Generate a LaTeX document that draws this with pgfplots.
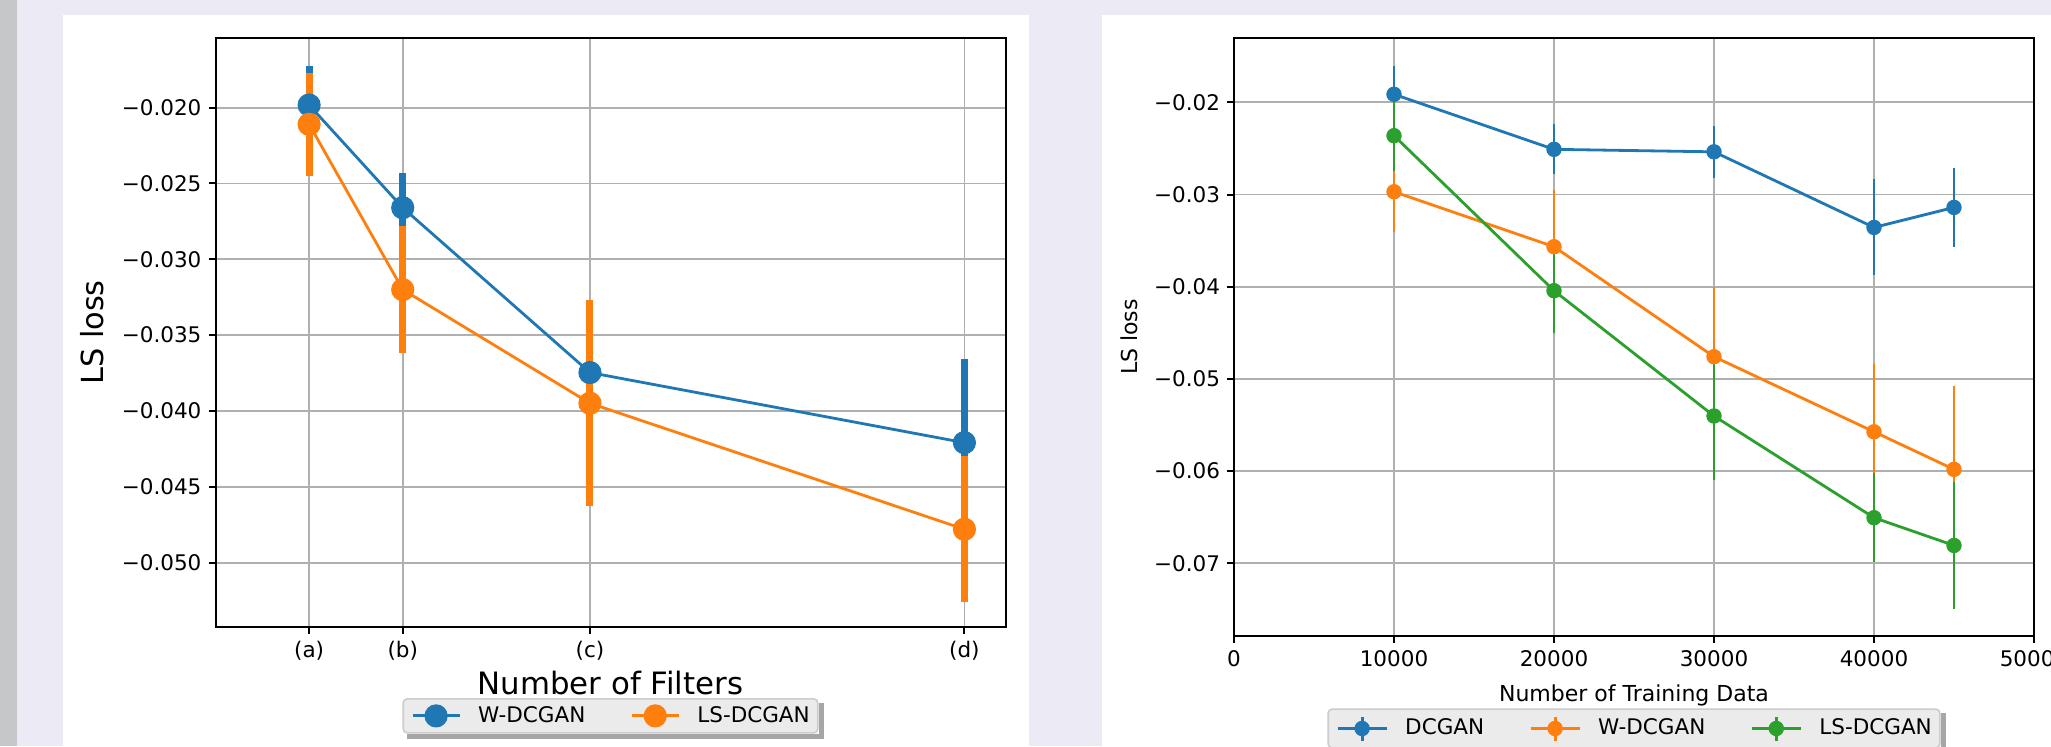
\documentclass[border=0pt]{standalone}
\usepackage{pgfplots}
\pgfplotsset{compat=1.18}
\usepackage{pgfplotstable}
\usepackage{fontspec}
\setmainfont{DejaVu Sans}

\definecolor{cblue}{HTML}{1F77B4}
\definecolor{corange}{HTML}{FF7F0E}
\definecolor{cgreen}{HTML}{2CA02C}
\definecolor{lav}{HTML}{ECEBF5}
\definecolor{strip}{HTML}{C6C7C9}
\definecolor{gridc}{HTML}{B0B0B0}
\definecolor{legfill}{HTML}{EBEBEB}
\definecolor{legedge}{HTML}{CCCCCC}
\definecolor{shadowc}{HTML}{A6A6A6}

% Left panel: Number of Filters, (a)=1,(b)=2,(c)=4,(d)=8
\pgfplotstableread{
x y e
1 -0.01983 0.0026
2 -0.02660 0.0023
4 -0.03747 0.0033
8 -0.04209 0.0055
}\lw
\pgfplotstableread{
x y e
1 -0.02110 0.0034
2 -0.03200 0.0042
4 -0.03949 0.0068
8 -0.04780 0.0048
}\lls

% Right panel: Number of Training Data
\pgfplotstableread{
x y e
10000 -0.01913 0.0031
20000 -0.02510 0.0027
30000 -0.02537 0.0028
40000 -0.03357 0.0052
45000 -0.03140 0.0043
}\rdc
\pgfplotstableread{
x y e
10000 -0.02970 0.0044
20000 -0.03566 0.0062
30000 -0.04759 0.0076
40000 -0.05573 0.0074
45000 -0.05981 0.0090
}\rw
\pgfplotstableread{
x y e
10000 -0.02362 0.0038
20000 -0.04043 0.0046
30000 -0.05402 0.0069
40000 -0.06505 0.0048
45000 -0.06806 0.0069
}\rls

\pgfplotsset{
  common/.style={
    scale only axis,
    axis line style={line width=1pt, black},
    tick align=outside,
    major tick length=3.5pt,
    tick style={black, line width=1pt},
    xtick pos=bottom, ytick pos=left,
    grid=major,
    major grid style={gridc, line width=0.9pt},
    tick label style={font=\fontsize{10.75}{13}\selectfont},
    scaled x ticks=false, scaled y ticks=false,
    legend columns=3,
    legend style={
      anchor=north,
      fill=legfill, draw=legedge, line width=0.8pt, rounded corners=2pt,
      font=\fontsize{10.75}{13}\selectfont,
      inner xsep=4pt, inner ysep=3pt,
      nodes={inner xsep=0pt, inner ysep=0pt},
      /tikz/every odd column/.append style={column sep=8.6pt},
      /tikz/every even column/.append style={column sep=22.5pt},
    },
  },
}

\begin{document}
\begin{tikzpicture}
\path[use as bounding box] (0pt,0pt) rectangle (1025.5pt,373pt);
\clip (0pt,0pt) rectangle (1025.5pt,373pt);
\fill[lav] (0pt,0pt) rectangle (1025.5pt,373pt);
\fill[strip] (0pt,0pt) rectangle (8.65pt,373pt);
\fill[white] (31.35pt,0pt) rectangle (514.65pt,365.5pt);
\fill[white] (551pt,0pt) rectangle (1025.5pt,365.5pt);

% ---------------- Left axis ----------------
\begin{axis}[common,
  at={(107.75pt,59.65pt)}, anchor=south west,
  width=395pt, height=294.2pt,
  xmin=0, xmax=8.439,
  ymin=-0.054225, ymax=-0.01543,
  xtick={1,2,4,8}, xticklabels={(a),(b),(c),(d)},
  ytick={-0.050,-0.045,-0.040,-0.035,-0.030,-0.025,-0.020},
  yticklabels={−0.050,−0.045,−0.040,−0.035,−0.030,−0.025,−0.020},
  xlabel={Number of Filters}, ylabel={LS loss},
  every axis x label/.style={at={(axis description cs:0.5,-0.1159)}, anchor=base, font=\fontsize{15.4}{18}\selectfont},
  every axis y label/.style={at={(axis description cs:-0.1563,0.5)}, rotate=90, anchor=center, font=\fontsize{15.2}{18}\selectfont},
  legend columns=2,
  legend style={at={(0.5,-0.1213)}, name=legL},
  legend image code/.code={\draw[mark repeat=2,mark phase=2,#1] plot coordinates {(0pt,0pt) (11.75pt,0pt) (23.5pt,0pt)};},
]
\addplot[cblue, line width=1.4pt, mark=none, forget plot,
  error bars/.cd, y dir=both, y explicit, error mark=none,
  error bar style={line width=3.5pt}] table[x=x, y=y, y error=e] {\lw};
\addplot[corange, line width=1.4pt, mark=none, forget plot,
  error bars/.cd, y dir=both, y explicit, error mark=none,
  error bar style={line width=3.5pt}] table[x=x, y=y, y error=e] {\lls};
\addplot[only marks, mark=*, mark size=5.5pt, cblue, mark options={line width=0.6pt}, forget plot] table[x=x, y=y] {\lw};
\addplot[only marks, mark=*, mark size=5.5pt, corange, mark options={line width=0.6pt}, forget plot] table[x=x, y=y] {\lls};
\addlegendimage{cblue, line width=1.4pt, mark=*, mark size=5.5pt, mark options={line width=0.6pt}}
\addlegendentry{W-DCGAN}
\addlegendimage{corange, line width=1.4pt, mark=*, mark size=5.5pt, mark options={line width=0.6pt}}
\addlegendentry{LS-DCGAN}
\end{axis}
% legend shadow (visible L-shaped part, bottom and right)
\fill[shadowc] ([xshift=2.5pt,yshift=-0.4pt]legL.south west) rectangle ([xshift=2.9pt,yshift=-2.9pt]legL.south east);
\fill[shadowc] ([xshift=0.4pt,yshift=-2.5pt]legL.north east) rectangle ([xshift=2.9pt,yshift=-2.9pt]legL.south east);

% ---------------- Right axis ----------------
\begin{axis}[common,
  at={(617pt,55pt)}, anchor=south west,
  width=400pt, height=299pt,
  xmin=0, xmax=50000,
  ymin=-0.07788, ymax=-0.013026,
  xtick={0,10000,20000,30000,40000,50000},
  xticklabels={0,10000,20000,30000,40000,50000},
  ytick={-0.07,-0.06,-0.05,-0.04,-0.03,-0.02},
  yticklabels={−0.07,−0.06,−0.05,−0.04,−0.03,−0.02},
  xlabel={Number of Training Data}, ylabel={LS loss},
  every axis x label/.style={at={(axis description cs:0.5,-0.109)}, anchor=base, font=\fontsize{11}{13}\selectfont},
  every axis y label/.style={at={(axis description cs:-0.1309,0.5)}, rotate=90, anchor=center, font=\fontsize{11}{13}\selectfont},
  legend columns=3,
  legend style={at={(0.5,-0.1209)}, name=legR},
  legend image code/.code={\draw[#1, mark=none] (12.25pt,-6pt) -- (12.25pt,6pt); \draw[mark repeat=2,mark phase=2,#1] plot coordinates {(0pt,0pt) (12.25pt,0pt) (24.5pt,0pt)};},
]
\addplot[cblue, line width=1.4pt, mark=none, forget plot,
  error bars/.cd, y dir=both, y explicit, error mark=none,
  error bar style={line width=1.4pt}] table[x=x, y=y, y error=e] {\rdc};
\addplot[corange, line width=1.4pt, mark=none, forget plot,
  error bars/.cd, y dir=both, y explicit, error mark=none,
  error bar style={line width=1.4pt}] table[x=x, y=y, y error=e] {\rw};
\addplot[cgreen, line width=1.4pt, mark=none, forget plot,
  error bars/.cd, y dir=both, y explicit, error mark=none,
  error bar style={line width=1.4pt}] table[x=x, y=y, y error=e] {\rls};
\addplot[only marks, mark=*, mark size=3.6pt, cblue, mark options={line width=0.5pt}, forget plot] table[x=x, y=y] {\rdc};
\addplot[only marks, mark=*, mark size=3.6pt, corange, mark options={line width=0.5pt}, forget plot] table[x=x, y=y] {\rw};
\addplot[only marks, mark=*, mark size=3.6pt, cgreen, mark options={line width=0.5pt}, forget plot] table[x=x, y=y] {\rls};
\addlegendimage{cblue, line width=1.4pt, mark=*, mark size=3.6pt, mark options={line width=0.5pt}}
\addlegendentry{DCGAN}
\addlegendimage{corange, line width=1.4pt, mark=*, mark size=3.6pt, mark options={line width=0.5pt}}
\addlegendentry{W-DCGAN}
\addlegendimage{cgreen, line width=1.4pt, mark=*, mark size=3.6pt, mark options={line width=0.5pt}}
\addlegendentry{LS-DCGAN}
\end{axis}
\fill[shadowc] ([xshift=2.5pt,yshift=-0.4pt]legR.south west) rectangle ([xshift=2.9pt,yshift=-2.9pt]legR.south east);
\fill[shadowc] ([xshift=0.4pt,yshift=-2.5pt]legR.north east) rectangle ([xshift=2.9pt,yshift=-2.9pt]legR.south east);
\end{tikzpicture}
\end{document}
